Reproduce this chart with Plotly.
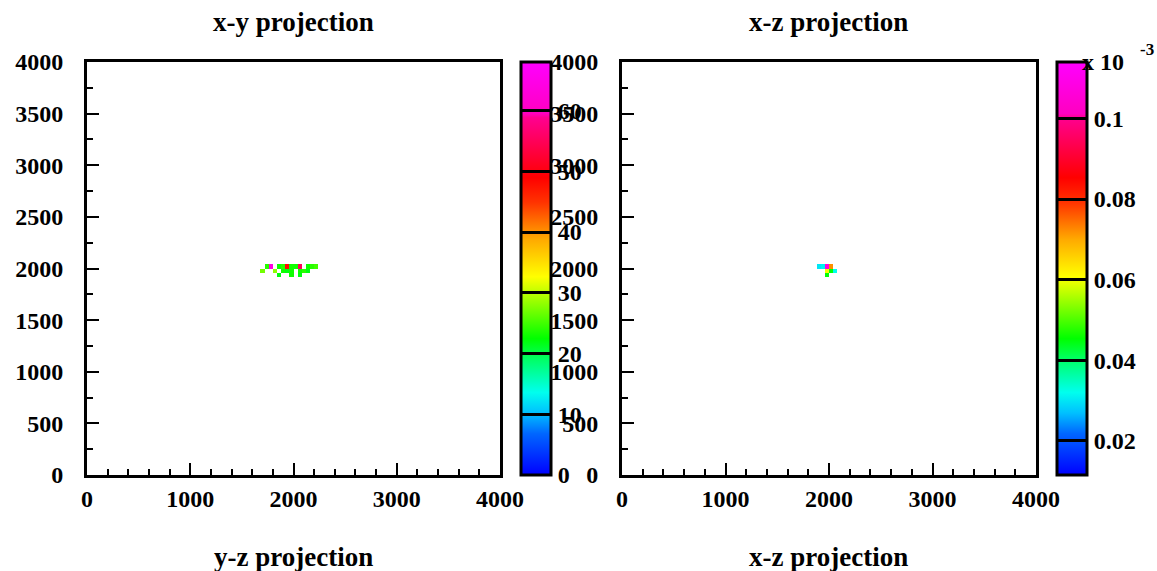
import numpy as np
import plotly.graph_objects as go

# ---------------- data ----------------
bin_edges_lo = 0
bin_edges_hi = 4000
bin_size = 40

# x-y projection: filled bins (bin centres) and contents
xy_x = [1740, 1780, 1860, 1900, 1940, 1980, 2020, 2060, 2140, 2180, 2220,
        1700, 1820, 1900, 1940, 1980, 2060, 2100, 2140,
        1860, 1980, 2060]
xy_y = [2020, 2020, 2020, 2020, 2020, 2020, 2020, 2020, 2020, 2020, 2020,
        1980, 1980, 1980, 1980, 1980, 1980, 1980, 1980,
        1940, 1940, 1940]
xy_w = [24, 64, 23, 24, 48, 23, 23, 55, 23, 24, 25,
        27, 28, 23, 22, 23, 23, 24, 22,
        22, 23, 22]

# x-z projection (contents in units of 1e-3)
xz_x = [1900, 1940, 1980, 2020, 1980, 2020, 2060, 1980]
xz_z = [2020, 2020, 2020, 2020, 1980, 1980, 1980, 1940]
xz_w = [0.030, 0.031, 0.108, 0.072, 0.060, 0.045, 0.032, 0.045]

xy_zrange = [0, 68]
xz_zrange = [0.0115, 0.114]
xy_cb_ticks = [0, 10, 20, 30, 40, 50, 60]
xz_cb_ticks = [0.02, 0.04, 0.06, 0.08, 0.1]
xz_cb_labels = ["0.02", "0.04", "0.06", "0.08", "0.1"]
axis_ticks = [0, 1000, 2000, 3000, 4000]
titles_top = ["x-y projection", "x-z projection"]
titles_bottom = ["y-z projection", "x-z projection"]

# ---------------- helpers ----------------
W, H = 1157, 571
centres = np.arange(bin_edges_lo + bin_size / 2, bin_edges_hi, bin_size)


def grid(xs, ys, ws):
    g = np.full((len(centres), len(centres)), np.nan)
    for x, y, w in zip(xs, ys, ws):
        ix = int((x - bin_edges_lo) // bin_size)
        iy = int((y - bin_edges_lo) // bin_size)
        g[iy, ix] = w
    return [[None if np.isnan(v) else float(v) for v in row] for row in g]


cscale = [
    [0.00, "#0000ff"], [0.10, "#0066ff"], [0.15, "#00c0ff"], [0.20, "#00ffee"],
    [0.28, "#00ff66"], [0.33, "#00ff00"], [0.42, "#99ff00"], [0.48, "#ffff00"],
    [0.57, "#ffaa00"], [0.66, "#ff3300"], [0.72, "#ff0000"], [0.80, "#ff0050"],
    [0.865, "#ff0090"], [0.875, "#ff00c0"], [1.00, "#ff00ff"],
]

FONT = "Liberation Serif"
tickfont = dict(family=FONT, size=24, color="black", weight="bold")

frames = [(87, 500), (622, 1036)]
ytop, ybot = 62, 475
ydom = [1 - ybot / H, 1 - ytop / H]
cb_x = [521, 1057]

fig = go.Figure()

datasets = [
    (xy_x, xy_y, xy_w, xy_zrange, xy_cb_ticks, [str(t) for t in xy_cb_ticks]),
    (xz_x, xz_z, xz_w, xz_zrange, xz_cb_ticks, xz_cb_labels),
]

for i, (xs, ys, ws, zr, cbt, cbl) in enumerate(datasets):
    ax = "" if i == 0 else "2"
    fig.add_trace(go.Heatmap(
        x=centres, y=centres, z=grid(xs, ys, ws),
        zmin=zr[0], zmax=zr[1], colorscale=cscale, zsmooth=False,
        hoverinfo="skip", xaxis="x" + ax, yaxis="y" + ax,
        colorbar=dict(
            x=cb_x[i] / W, xanchor="left", y=ydom[0], yanchor="bottom",
            len=ydom[1] - ydom[0], lenmode="fraction",
            thickness=30, thicknessmode="pixels", xpad=0, ypad=0,
            outlinewidth=3, outlinecolor="black",
            ticks="inside", ticklen=30, tickwidth=3, tickcolor="black",
            tickvals=cbt, ticktext=cbl, tickfont=tickfont,
        ),
    ))
    l, r = frames[i]
    common = dict(range=[0, 4000], showgrid=False, zeroline=False,
                  showline=True, linecolor="black", linewidth=3, mirror=True,
                  ticks="inside", tickcolor="black", tickwidth=2,
                  tickfont=tickfont)
    fig.layout["xaxis" + ax] = dict(
        domain=[l / W, r / W], anchor="y" + ax, tickvals=axis_ticks, ticklen=12,
        minor=dict(dtick=200, ticks="inside", ticklen=6, tickcolor="black", tickwidth=2),
        ticklabelstandoff=0, **common)
    fig.layout["yaxis" + ax] = dict(
        domain=ydom, anchor="x" + ax, dtick=500, tick0=0, ticklen=12,
        minor=dict(dtick=250, ticks="inside", ticklen=6, tickcolor="black", tickwidth=2),
        ticklabelstandoff=16, **common)

titlefont = dict(family=FONT, size=27, color="black", weight="bold")
for i, t in enumerate(titles_top):
    l, r = frames[i]
    fig.add_annotation(text=t, x=(l + r) / 2 / W, y=1 - 22 / H, xref="paper",
                       yref="paper", showarrow=False, font=titlefont,
                       xanchor="center", yanchor="middle")
for i, t in enumerate(titles_bottom):
    l, r = frames[i]
    fig.add_annotation(text=t, x=(l + r) / 2 / W, y=1 - 557 / H, xref="paper",
                       yref="paper", showarrow=False, font=titlefont,
                       xanchor="center", yanchor="middle")

# exponent label of the x-z colour scale
fig.add_annotation(text="x 10", x=1080 / W, y=1 - 62 / H, xref="paper", yref="paper",
                   showarrow=False, font=tickfont, xanchor="left", yanchor="middle")
fig.add_annotation(text="-3", x=1138 / W, y=1 - 50 / H, xref="paper", yref="paper",
                   showarrow=False, font=dict(family=FONT, size=17, color="black", weight="bold"),
                   xanchor="left", yanchor="middle")

fig.update_layout(width=W, height=H, autosize=False,
                  margin=dict(l=0, r=0, t=0, b=0, autoexpand=False),
                  paper_bgcolor="white", plot_bgcolor="white",
                  showlegend=False)

fig.write_html("out.html")
